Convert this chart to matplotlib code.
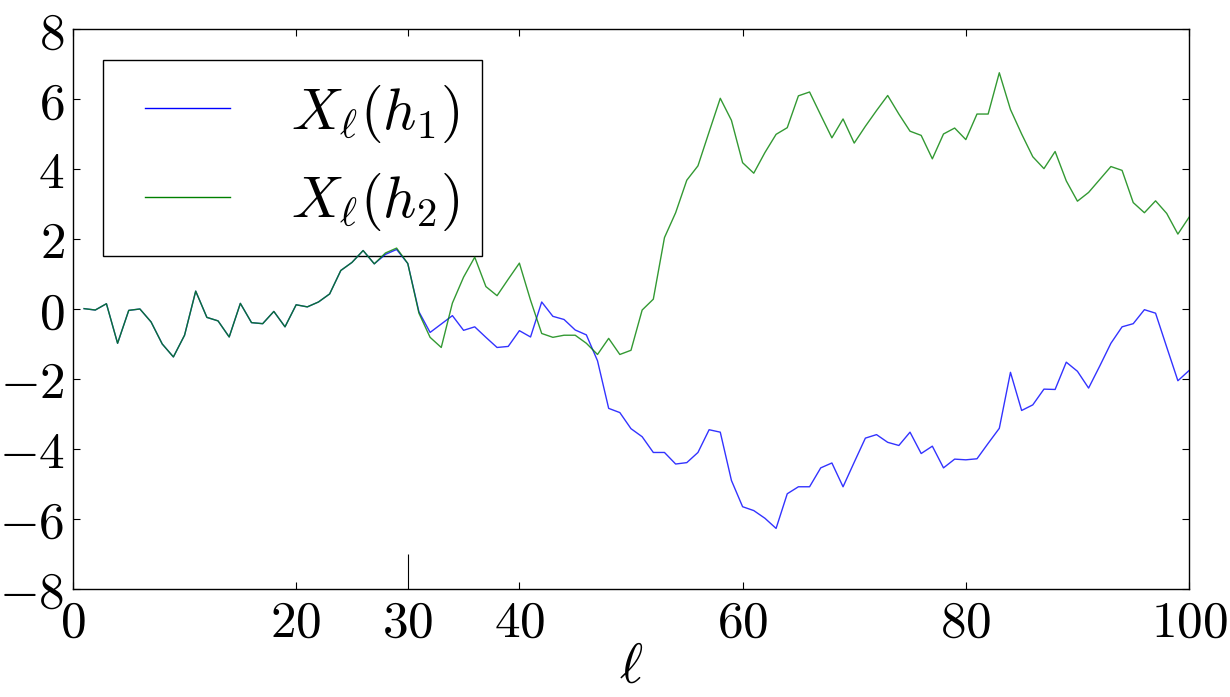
import matplotlib
matplotlib.use("Agg")
import matplotlib.pyplot as plt

plt.rcParams['mathtext.fontset'] = 'cm'
plt.rcParams['font.family'] = ['DejaVu Serif']

ell = list(range(1, 101))

x_h1 = [0.01, -0.03, 0.15, -0.98, -0.04, 0.0, -0.37, -1.0, -1.37, -0.75,
        0.51, -0.24, -0.34, -0.8, 0.16, -0.39, -0.42, -0.07, -0.51, 0.12,
        0.06, 0.2, 0.43, 1.1, 1.33, 1.67, 1.29, 1.56, 1.70, 1.3,
        -0.08, -0.67, -0.43, -0.19, -0.61, -0.51, -0.81, -1.1, -1.07, -0.62,
        -0.8, 0.2, -0.21, -0.3, -0.6, -0.74, -1.48, -2.84, -2.96, -3.42,
        -3.65, -4.1, -4.1, -4.43, -4.39, -4.1, -3.45, -3.52, -4.9, -5.65,
        -5.76, -5.98, -6.27, -5.28, -5.08, -5.08, -4.54, -4.4, -5.08, -4.38,
        -3.69, -3.59, -3.81, -3.9, -3.52, -4.13, -3.92, -4.54, -4.29, -4.31,
        -4.28, -3.84, -3.41, -1.81, -2.9, -2.74, -2.29, -2.3, -1.52, -1.78,
        -2.26, -1.63, -0.98, -0.51, -0.42, -0.02, -0.12, -1.09, -2.05, -1.76]

x_h2 = [0.01, -0.03, 0.15, -0.98, -0.04, 0.0, -0.37, -1.0, -1.37, -0.75,
        0.51, -0.24, -0.34, -0.8, 0.16, -0.39, -0.42, -0.07, -0.51, 0.12,
        0.06, 0.2, 0.43, 1.1, 1.33, 1.67, 1.29, 1.6, 1.74, 1.3,
        -0.12, -0.81, -1.1, 0.17, 0.91, 1.48, 0.64, 0.38, 0.85, 1.31,
        0.25, -0.7, -0.81, -0.75, -0.75, -0.98, -1.3, -0.84, -1.3, -1.18,
        -0.03, 0.28, 2.04, 2.75, 3.68, 4.09, 5.06, 6.02, 5.39, 4.18,
        3.88, 4.47, 4.99, 5.18, 6.09, 6.2, 5.54, 4.89, 5.43, 4.74,
        5.22, 5.67, 6.1, 5.57, 5.08, 4.96, 4.29, 5.0, 5.17, 4.84,
        5.57, 5.57, 6.75, 5.7, 5.0, 4.35, 4.01, 4.5, 3.66, 3.08,
        3.33, 3.7, 4.07, 3.96, 3.04, 2.75, 3.09, 2.73, 2.14, 2.62]

xticks = [0, 20, 30, 40, 60, 80, 100]
yticks = [-8, -6, -4, -2, 0, 2, 4, 6, 8]
marked_tick = 30
labels = [r'$X_\ell(h_1)$', r'$X_\ell(h_2)$']

fig = plt.figure(figsize=(12.3, 6.97), dpi=100)
ax = fig.add_axes([0.0593, 0.155, 0.9074, 0.8034])

ax.plot(ell, x_h1, color=(0, 0, 1), lw=1.0, alpha=0.8, label=labels[0], zorder=3)
ax.plot(ell, x_h2, color=(0, 0.5, 0), lw=1.0, alpha=0.8, label=labels[1], zorder=3)

ax.set_xlim(0, 100)
ax.set_ylim(-8, 8)
ax.set_xticks(xticks)
ax.set_xticklabels([f'${t}$' for t in xticks], fontsize=37)
ax.set_yticks(yticks)
ax.set_yticklabels([f'${t}$' for t in yticks], fontsize=37)
ax.tick_params(direction='in', length=5, width=0.8, top=True, right=True, pad=6)
ax.tick_params(axis='x', pad=7)
ax.minorticks_off()
for t, v in zip(ax.xaxis.get_major_ticks(), xticks):
    if v == marked_tick:
        t.tick1line.set_markersize(25)
for s in ax.spines.values():
    s.set_linewidth(1.0)

ax.set_xlabel(r'$\ell$', fontsize=40, labelpad=-6)

leg = ax.legend(loc='upper left', bbox_to_anchor=(0.027, 0.945), borderaxespad=0,
                fontsize=42, frameon=True, fancybox=False, framealpha=1,
                edgecolor='black', facecolor='none', handlelength=1.78,
                handletextpad=1.05, borderpad=0.39, labelspacing=0.46)
leg.set_zorder(2)
leg.get_frame().set_linewidth(1.0)
left_inset_pt = 13.7
for line in leg.get_lines():
    line.set_alpha(1.0)
    xd = list(line.get_xdata())
    yd = list(line.get_ydata())
    line.set_xdata([min(xd) + left_inset_pt, max(xd)])
    line.set_ydata([yd[0], yd[0]])

fig.savefig('out.png', dpi=100)
